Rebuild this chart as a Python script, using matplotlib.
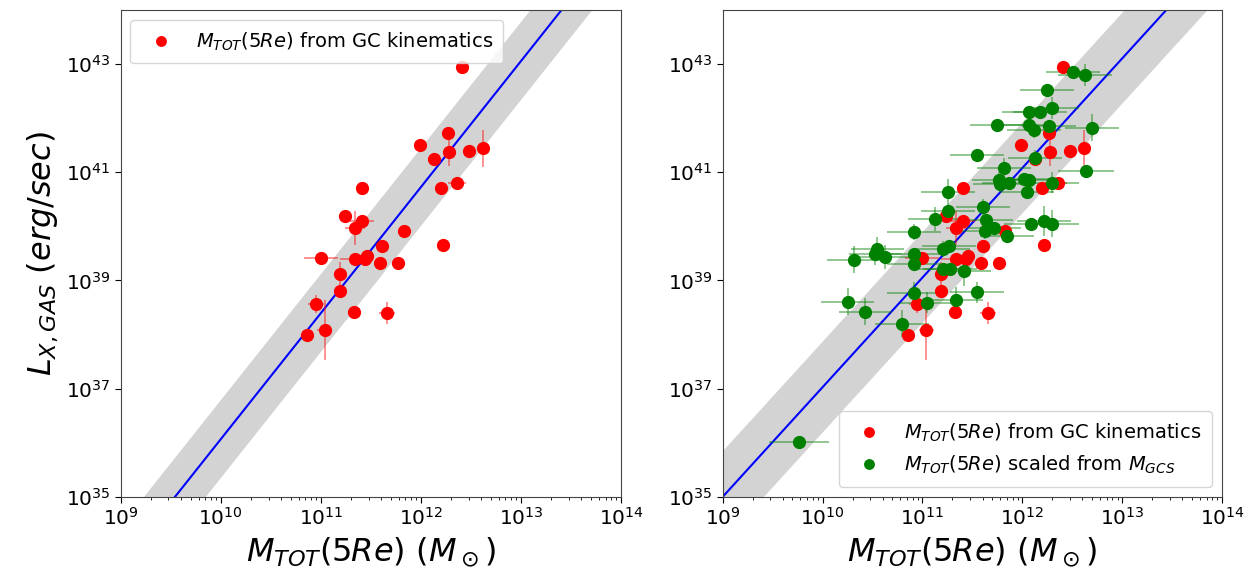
import numpy as np
import matplotlib
matplotlib.use("Agg")
import matplotlib.pyplot as plt
from matplotlib.ticker import LogLocator, NullLocator, NullFormatter

# ---------------- data (log10 values) ----------------
# Red: M_TOT(5Re) from GC kinematics
red_logM = [12.41, 12.27, 11.99, 12.28, 12.48, 12.62, 12.13, 11.41, 12.20, 12.36,
            11.24, 11.41, 11.34, 11.83, 12.22, 11.61, 11.00, 11.34, 11.46, 11.44,
            11.59, 11.77, 11.19, 11.19, 10.95, 11.33, 11.66, 11.04, 10.86]
red_logL = [42.95, 41.73, 41.51, 41.37, 41.39, 41.44, 41.25, 40.71, 40.70, 40.81,
            40.20, 40.10, 39.97, 39.91, 39.66, 39.63, 39.42, 39.40, 39.46, 39.40,
            39.32, 39.32, 39.11, 38.80, 38.57, 38.42, 38.40, 38.08, 38.00]
red_xerr = [0.0, 0.0, 0.0, 0.0, 0.0, 0.0, 0.0, 0.05, 0.0, 0.09,
            0.0, 0.12, 0.10, 0.0, 0.0, 0.0, 0.17, 0.15, 0.05, 0.0,
            0.0, 0.0, 0.0, 0.0, 0.08, 0.0, 0.08, 0.075, 0.0]
red_yerr = [0.0, 0.0, 0.0, 0.25, 0.0, 0.35, 0.0, 0.0, 0.0, 0.0,
            0.0, 0.05, 0.32, 0.0, 0.0, 0.0, 0.0, 0.0, 0.0, 0.0,
            0.0, 0.0, 0.24, 0.0, 0.17, 0.0, 0.20, 0.55, 0.10]

# Green: M_TOT(5Re) scaled from M_GCS
grn_logM = [12.51, 12.63, 12.25, 12.07, 12.18, 12.30, 11.75, 12.07, 12.12, 12.27,
            12.70, 11.55, 12.13, 11.82, 12.64, 11.77, 11.78, 12.02, 12.07, 12.30,
            12.05, 11.26, 11.61, 11.26, 11.13, 11.64, 11.63, 11.72, 11.85, 12.09,
            12.22, 12.30, 10.92, 11.21, 11.27, 10.55, 10.53, 10.63, 10.31, 10.92,
            10.92, 11.21, 11.28, 11.42, 10.92, 11.55, 10.25, 10.43, 11.05, 11.34,
            10.80, 9.76, 11.87]
grn_logL = [42.86, 42.80, 42.53, 42.12, 42.12, 42.19, 41.87, 41.87, 41.78, 41.85,
            41.82, 41.31, 41.26, 41.07, 41.02, 40.86, 40.78, 40.88, 40.85, 40.81,
            40.63, 40.63, 40.35, 40.29, 40.14, 40.11, 39.92, 39.97, 39.82, 40.05,
            40.10, 40.05, 39.89, 39.58, 39.63, 39.58, 39.48, 39.43, 39.38, 39.49,
            39.31, 39.22, 39.22, 39.17, 38.77, 38.78, 38.61, 38.42, 38.59, 38.63,
            38.20, 36.01, 40.80]
grn_xerr = [0.27, 0.27, 0.27, 0.27, 0.27, 0.27, 0.27, 0.27, 0.27, 0.27,
            0.27, 0.27, 0.27, 0.27, 0.28, 0.27, 0.27, 0.27, 0.27, 0.27,
            0.27, 0.27, 0.27, 0.27, 0.27, 0.27, 0.27, 0.27, 0.27, 0.27,
            0.27, 0.27, 0.27, 0.27, 0.27, 0.27, 0.27, 0.27, 0.27, 0.27,
            0.27, 0.27, 0.27, 0.27, 0.27, 0.27, 0.27, 0.27, 0.27, 0.27,
            0.27, 0.30, 0.27]
grn_yerr = [0.0, 0.20, 0.0, 0.0, 0.0, 0.20, 0.0, 0.0, 0.15, 0.0,
            0.25, 0.0, 0.15, 0.20, 0.0, 0.15, 0.15, 0.0, 0.0, 0.20,
            0.0, 0.25, 0.15, 0.0, 0.22, 0.0, 0.15, 0.0, 0.0, 0.0,
            0.28, 0.25, 0.15, 0.15, 0.0, 0.22, 0.20, 0.22, 0.25, 0.0,
            0.0, 0.0, 0.0, 0.28, 0.20, 0.20, 0.25, 0.25, 0.20, 0.25,
            0.25, 0.10, 0.0]

# Fit relations: log L = slope * log M + intercept, with scatter band (dex)
fit_left = dict(slope=2.33, intercept=12.765, scatter=0.72)
fit_right = dict(slope=2.026, intercept=16.766, scatter=0.84)

xlim = (1e9, 1e14)
ylim = (1e35, 1e44)
yticks = [1e35, 1e37, 1e39, 1e41, 1e43]

label_red = r'$M_{TOT}(5Re)$ from GC kinematics'
label_grn = r'$M_{TOT}(5Re)$ scaled from $M_{GCS}$'
xlabel = r'$M_{TOT}(5Re)\ (M_\odot)$'
ylabel = r'$L_{X,GAS}\ (erg/sec)$'


def lin_err(logv, e):
    logv = np.asarray(logv)
    e = np.asarray(e)
    v = 10.0 ** logv
    return np.vstack([v - 10.0 ** (logv - e), 10.0 ** (logv + e) - v])


def draw_fit(ax, fit):
    lm = np.linspace(8.5, 14.5, 200)
    ll = fit['slope'] * lm + fit['intercept']
    m = 10.0 ** lm
    ax.fill_between(m, 10.0 ** (ll - fit['scatter']), 10.0 ** (ll + fit['scatter']),
                    color='#d3d3d3', lw=0, zorder=1)
    ax.plot(m, 10.0 ** ll, color='blue', lw=1.5, zorder=2)


def draw_points(ax, logM, logL, xe, ye, color, label):
    ax.errorbar(10.0 ** np.asarray(logM), 10.0 ** np.asarray(logL),
                xerr=lin_err(logM, xe), yerr=lin_err(logL, ye),
                fmt='none', ecolor=color, alpha=0.5, elinewidth=1.2, zorder=3)
    ax.plot(10.0 ** np.asarray(logM), 10.0 ** np.asarray(logL), 'o', color=color,
            ms=8.5, zorder=4, label=label, linestyle='none')


def style(ax):
    ax.set_xscale('log')
    ax.set_yscale('log')
    ax.set_xlim(*xlim)
    ax.set_ylim(*ylim)
    ax.set_yticks(yticks)
    ax.yaxis.set_minor_locator(NullLocator())
    ax.xaxis.set_major_locator(LogLocator(base=10, numticks=20))
    ax.xaxis.set_minor_locator(LogLocator(base=10, subs=np.arange(2, 10), numticks=20))
    ax.xaxis.set_minor_formatter(NullFormatter())
    ax.tick_params(axis='both', which='major', labelsize=14.5, length=4)
    ax.tick_params(axis='both', which='minor', length=2)
    for s in ax.spines.values():
        s.set_color('#444444')
    ax.set_xlabel(xlabel, fontsize=23)


fig = plt.figure(figsize=(12.6, 5.75), dpi=100)
W, H = 1260.0, 575.0
axL = fig.add_axes([120.7 / W, (H - 496.8) / H, 500.3 / W, 486.8 / H])
axR = fig.add_axes([722.7 / W, (H - 496.8) / H, 499.3 / W, 486.8 / H])

draw_fit(axL, fit_left)
draw_points(axL, red_logM, red_logL, red_xerr, red_yerr, 'red', label_red)
style(axL)
axL.set_ylabel(ylabel, fontsize=23)
axL.legend(loc='upper left', fontsize=14, borderpad=0.55, markerscale=0.8)

draw_fit(axR, fit_right)
draw_points(axR, red_logM, red_logL, red_xerr, red_yerr, 'red', label_red)
draw_points(axR, grn_logM, grn_logL, grn_xerr, grn_yerr, 'green', label_grn)
style(axR)
axR.legend(loc='lower right', fontsize=14, borderpad=0.55, markerscale=0.8)

fig.savefig('out.png', dpi=100)
